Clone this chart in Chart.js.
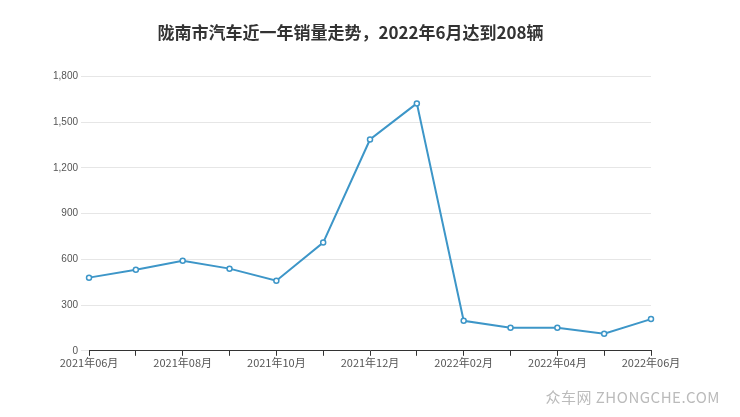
<!DOCTYPE html>
<html><head><meta charset="utf-8">
<script src="https://cdn.jsdelivr.net/npm/chart.js@4"></script>
<style>html,body{margin:0;padding:0;background:#fff;}#w{position:relative;width:740px;height:417px;}
#wm{position:absolute;right:20px;bottom:10px;font:15px "Noto Sans CJK SC",sans-serif;color:#bbb;letter-spacing:0.5px}</style>
</head><body><div id="w"><canvas id="c" width="740" height="417"></canvas><div id="wm">众车网 ZHONGCHE.COM</div></div>
<script>
const categories=["2021年06月","2021年07月","2021年08月","2021年09月","2021年10月","2021年11月","2021年12月","2022年01月","2022年02月","2022年03月","2022年04月","2022年05月","2022年06月"];
const sales=[480,532,591,539,460,710,1386,1623,197,151,151,112,208];
new Chart(document.getElementById('c'),{type:'line',
data:{labels:categories,datasets:[{data:sales,borderColor:'#3d96c8',backgroundColor:'#fff',borderWidth:2,pointRadius:2.5,pointBorderWidth:1.5,pointBorderColor:'#3d96c8',tension:0}]},
options:{responsive:false,animation:false,layout:{padding:{left:50,right:89,top:12,bottom:48}},
plugins:{legend:{display:false},title:{display:true,text:'陇南市汽车近一年销量走势，2022年6月达到208辆',font:{family:'"Noto Sans CJK SC"',size:17,weight:'bold'},color:'#333',padding:{top:10,bottom:34}}},
scales:{x:{offset:false,grid:{display:true,drawOnChartArea:false,tickLength:5,color:'#333'},border:{color:'#333'},ticks:{autoSkip:false,maxRotation:0,color:'#555',padding:0,font:{size:11,family:'"Noto Sans CJK SC"'},callback:(v,i)=>i%2===0?categories[i]:''}},
y:{min:0,max:1800,ticks:{stepSize:300,color:'#555',font:{size:10}},grid:{color:'#e6e6e6'},border:{display:false}}}}});
</script></body></html>
